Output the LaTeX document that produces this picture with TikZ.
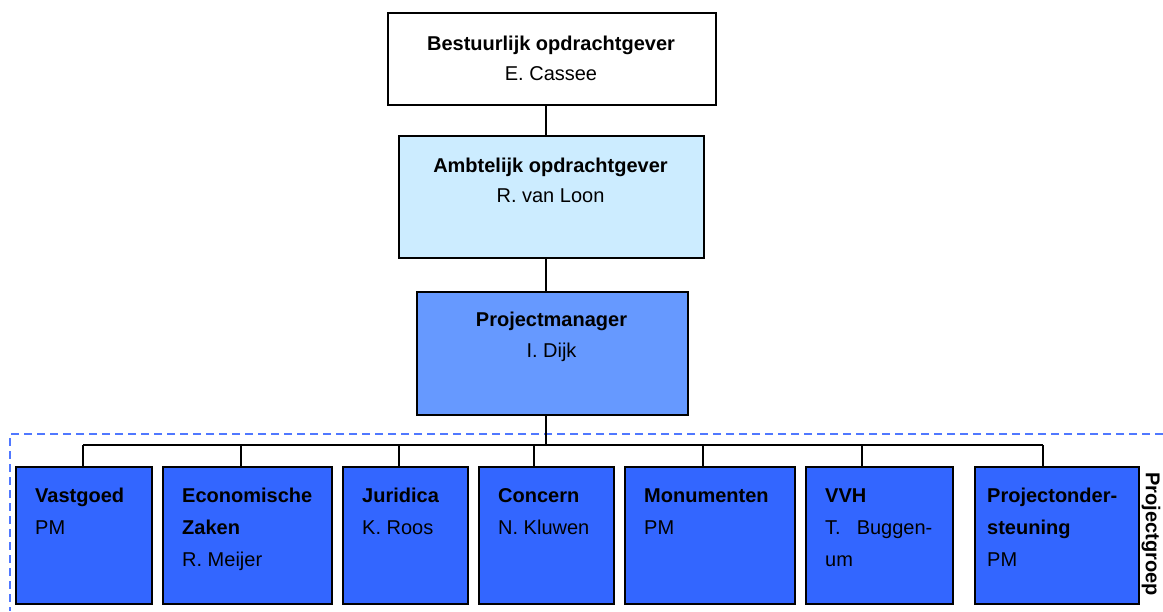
\documentclass[tikz,border=0pt]{standalone}
\usepackage{fontspec}
\setmainfont{Liberation Sans}
\definecolor{lightbox}{RGB}{204,236,255}
\definecolor{midbox}{RGB}{102,153,255}
\definecolor{darkbox}{RGB}{51,102,255}
\definecolor{dashblue}{RGB}{80,120,255}
\tikzset{
  orgbox/.style={draw=black, line width=1.5pt, anchor=north west, inner sep=0pt},
  tl/.style={font=\fontsize{20}{24}\selectfont\bfseries, inner sep=0pt, anchor=base},
  nm/.style={font=\fontsize{20}{24}\selectfont, inner sep=0pt, anchor=base},
  btl/.style={font=\fontsize{20}{24}\selectfont\bfseries, inner sep=0pt, anchor=base west},
  bnm/.style={font=\fontsize{20}{24}\selectfont, inner sep=0pt, anchor=base west},
  conn/.style={draw=black, line width=1.4pt},
}
\begin{document}
\begin{tikzpicture}[x=1pt,y=-1pt]
\useasboundingbox (0,0) rectangle (1163,611);
% dashed project group frame
\draw[dashblue, line width=1.5pt, dash pattern=on 8pt off 5pt] (1163,434) -- (10,434) -- (10,611);
% connector coordinates
\coordinate (trunk) at (546,445);
\coordinate (t1) at (83,445);
\coordinate (t2) at (241,445);
\coordinate (t3) at (399,445);
\coordinate (t4) at (534,445);
\coordinate (t5) at (703,445);
\coordinate (t6) at (862,445);
\coordinate (t7) at (1043,445);
% top boxes
\node[orgbox, fill=white, minimum width=328pt, minimum height=92pt] (b1) at (387,12) {};
\node[orgbox, fill=lightbox, minimum width=305pt, minimum height=122pt] (b2) at (398,135) {};
\node[orgbox, fill=midbox, minimum width=271pt, minimum height=123pt] (b3) at (416,291) {};
% bottom boxes
\node[orgbox, fill=darkbox, minimum width=136pt, minimum height=137pt] (p1) at (15,466) {};
\node[orgbox, fill=darkbox, minimum width=169pt, minimum height=137pt] (p2) at (162,466) {};
\node[orgbox, fill=darkbox, minimum width=125pt, minimum height=137pt] (p3) at (342,466) {};
\node[orgbox, fill=darkbox, minimum width=135pt, minimum height=137pt] (p4) at (478,466) {};
\node[orgbox, fill=darkbox, minimum width=170pt, minimum height=137pt] (p5) at (624,466) {};
\node[orgbox, fill=darkbox, minimum width=147pt, minimum height=137pt] (p6) at (805,466) {};
\node[orgbox, fill=darkbox, minimum width=164pt, minimum height=137pt] (p7) at (974,466) {};
% connectors
\draw[conn] (b1.south -| trunk) -- (b2.north -| trunk);
\draw[conn] (b2.south -| trunk) -- (b3.north -| trunk);
\draw[conn] (b3.south -| trunk) -- (trunk);
\draw[conn] (t1) -- (t7);
\draw[conn] (t1) -- (t1 |- p1.north);
\draw[conn] (t2) -- (t2 |- p2.north);
\draw[conn] (t3) -- (t3 |- p3.north);
\draw[conn] (t4) -- (t4 |- p4.north);
\draw[conn] (t5) -- (t5 |- p5.north);
\draw[conn] (t6) -- (t6 |- p6.north);
\draw[conn] (t7) -- (t7 |- p7.north);
% top texts
\node[tl] (b1t) at (551,50) {Bestuurlijk opdrachtgever};
\node[nm] (b1n) at (551,80) {E. Cassee};
\node[tl] (b2t) at (550.5,172) {Ambtelijk opdrachtgever};
\node[nm] (b2n) at (550.5,202) {R. van Loon};
\node[tl] (b3t) at (551.5,326) {Projectmanager};
\node[nm] (b3n) at (551.5,357) {I. Dijk};
% bottom texts
\node[btl] (p1t) at (35,502) {Vastgoed};
\node[bnm] (p1n) at (35,534) {PM};
\node[btl] (p2t) at (182,502) {Economische};
\node[btl] (p2u) at (182,534) {Zaken};
\node[bnm] (p2n) at (182,566) {R. Meijer};
\node[btl] (p3t) at (362,502) {Juridica};
\node[bnm] (p3n) at (362,534) {K. Roos};
\node[btl] (p4t) at (498,502) {Concern};
\node[bnm] (p4n) at (498,534) {N. Kluwen};
\node[btl] (p5t) at (644,502) {Monumenten};
\node[bnm] (p5n) at (644,534) {PM};
\node[btl] (p6t) at (825,502) {VVH};
\node[bnm] (p6n) at (825,534) {T.\hspace{16pt}Buggen-};
\node[bnm] (p6u) at (825,566) {um};
\node[btl] (p7t) at (987,502) {Projectonder-};
\node[btl] (p7u) at (987,534) {steuning};
\node[bnm] (p7n) at (987,566) {PM};
% group label
\node[font=\fontsize{20}{24}\selectfont\bfseries, rotate=-90, inner sep=0pt] (grp) at (1151,534) {Projectgroep};
\end{tikzpicture}
\end{document}
